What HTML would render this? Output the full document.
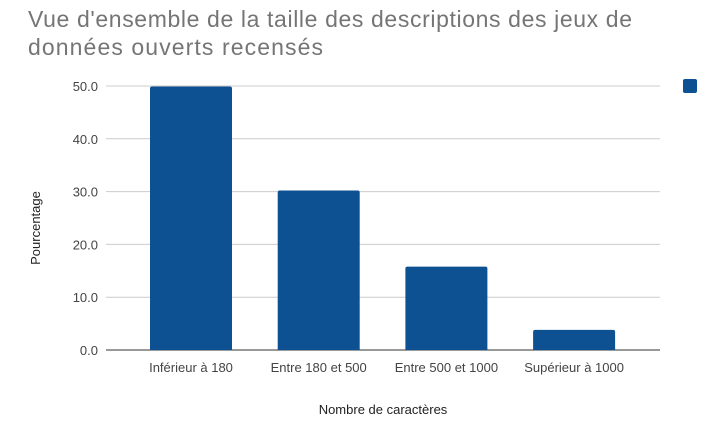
<!DOCTYPE html>
<html><head><meta charset="utf-8"><style>
body{margin:0;background:#fff;font-family:"Liberation Sans",Roboto,sans-serif}
</style></head><body>
<svg width="722" height="430" id="chart">
<text x="28" y="27" font-size="23" fill="#757575" textLength="604">Vue d'ensemble de la taille des descriptions des jeux de</text>
<text x="28" y="55" font-size="23" fill="#757575" textLength="295">données ouverts recensés</text>
<rect x="683" y="79" width="14" height="14" rx="2" fill="#0d5193"/>
<text x="40" y="228" font-size="13" fill="#222" transform="rotate(-90 40 228)" text-anchor="middle">Pourcentage</text>
<text x="383" y="414" font-size="13" fill="#222" text-anchor="middle">Nombre de caractères</text>
<g id="grid"></g><g id="bars"></g><g id="xl"></g>
</svg>
<script>
const categories=["Inférieur à 180","Entre 180 et 500","Entre 500 et 1000","Supérieur à 1000"];
const values=[49.9,30.2,15.8,3.8];
const ticks=[0,10,20,30,40,50];
const tickLabels=["0.0","10.0","20.0","30.0","40.0","50.0"];
const NS="http://www.w3.org/2000/svg";
const x0=106,x1=660,y0=350,yTop=86,vmax=50;
const y=v=>y0-(y0-yTop)*v/vmax;
const band=127.7;
const xc=i=>191+band*i;
function mk(t,a,p){const e=document.createElementNS(NS,t);for(const k in a)e.setAttribute(k,a[k]);p.appendChild(e);return e;}
const g=document.getElementById('grid'),b=document.getElementById('bars'),xl=document.getElementById('xl');
ticks.forEach((t,i)=>{
 const l=mk('line',{x1:x0,x2:x1,y1:y(t),y2:y(t),stroke:t===0?'#333':'#ccc','stroke-width':1},g);
 
 
 const tx=mk('text',{x:x0-8,y:y(t)+5,'font-size':13,fill:'#444','text-anchor':'end'},g);
 tx.textContent=tickLabels[i];
 
 
});
values.forEach((v,i)=>{
 const w=82;
 const r=mk('path',{d:`M${xc(i)-w/2},${y0}V${y(v)+2}q0,-2 2,-2H${xc(i)+w/2-2}q2,0 2,2V${y0}Z`,fill:'#0d5193'},b);
 
 
 const t=mk('text',{x:xc(i),y:372,'font-size':13,fill:'#444','text-anchor':'middle'},xl);
 t.textContent=categories[i];
 
 
});
g.appendChild(g.querySelector('line'));
</script>
</body></html>
